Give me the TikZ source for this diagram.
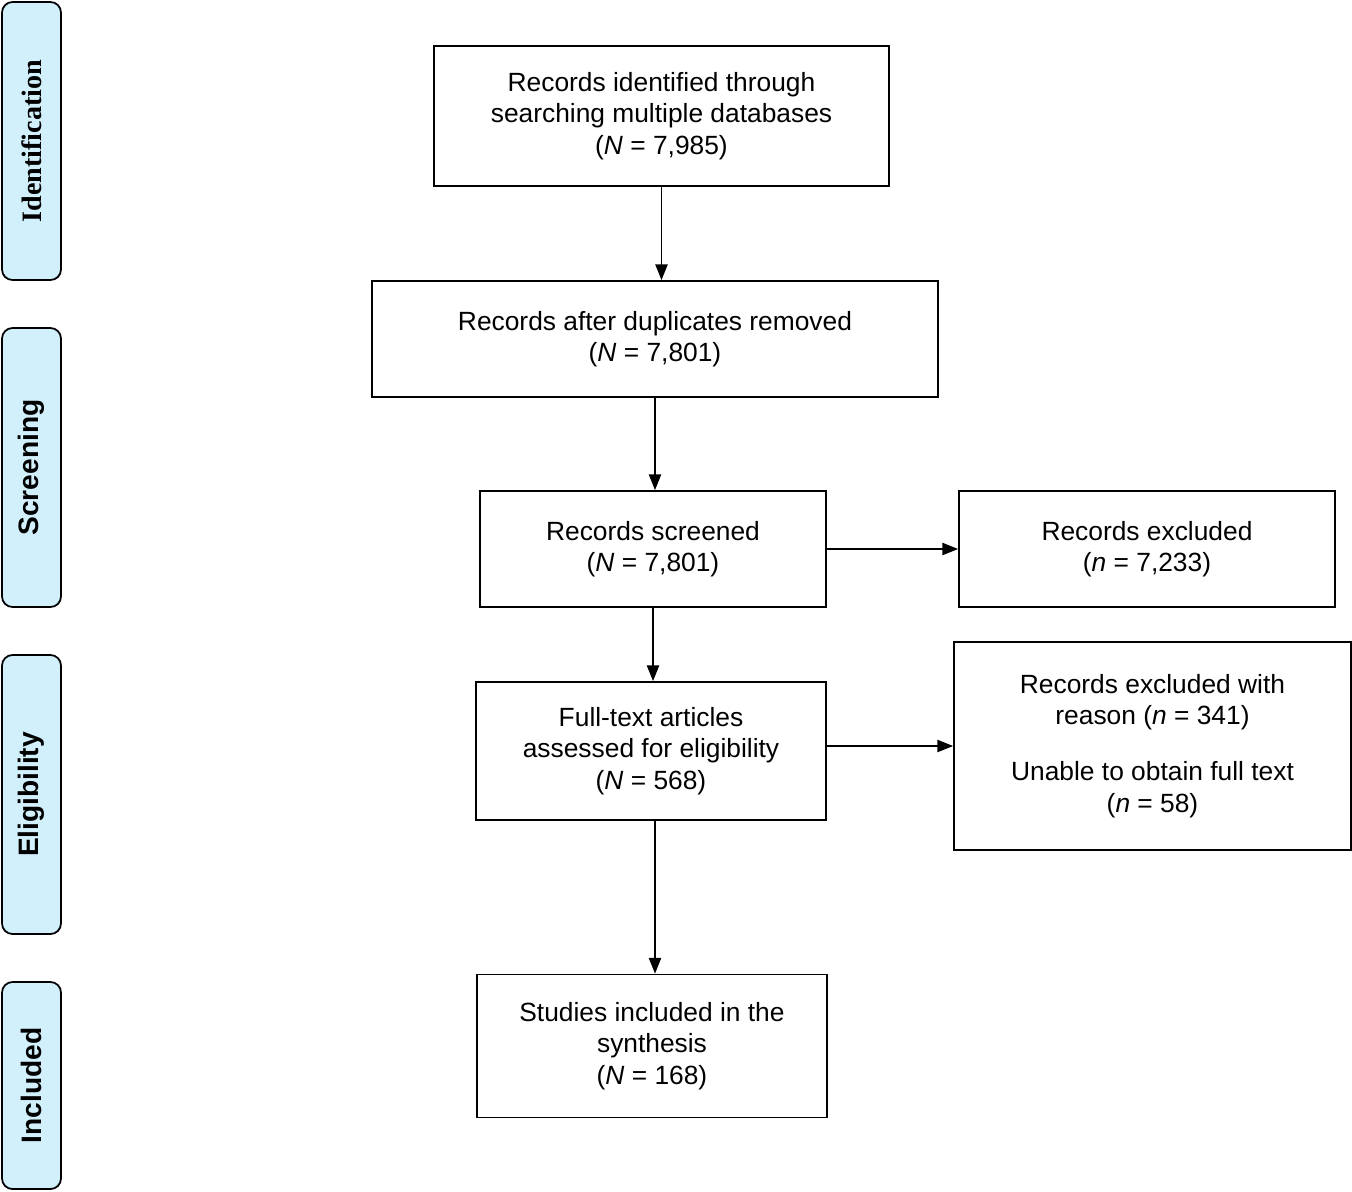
\documentclass[tikz,border=0pt]{standalone}
\usepackage{fontspec}
\setmainfont{Liberation Sans}
\newfontfamily\serifbar{Liberation Serif}
\usetikzlibrary{arrows.meta}
\begin{document}
\begin{tikzpicture}[x=0.02cm,y=-0.02cm,
    box/.style={draw, line width=1pt, align=center, inner sep=0pt,
      font=\fontsize{15}{18}\selectfont},
    stage/.style={draw, line width=1pt, fill=cyan!18!white, rounded corners=6pt,
      minimum width=59*0.02cm, inner sep=0pt,
      font=\bfseries\fontsize{16}{19}\selectfont},
    flow/.style={-{Triangle[length=9pt,width=7pt]}, line width=0.8pt}]
    \useasboundingbox (0,0) rectangle (1352,1191);
    % stage bars
    \node[stage, minimum height=278*0.02cm] (sid) at (31.5,141) {};
    \node[rotate=90, font=\serifbar\bfseries\fontsize{16}{19}\selectfont] at (sid) {Identification};
    \node[stage, minimum height=279*0.02cm] (sscr) at (31.5,467.5) {};
    \node[rotate=90, font=\bfseries\fontsize{16}{19}\selectfont] at (sscr) {Screening};
    \node[stage, minimum height=279*0.02cm] (selig) at (31.5,794.5) {};
    \node[rotate=90, font=\bfseries\fontsize{16}{19}\selectfont] at (selig) {Eligibility};
    \node[stage, minimum height=207*0.02cm] (sinc) at (31.5,1085.5) {};
    \node[rotate=90, font=\bfseries\fontsize{16}{19}\selectfont] at (sinc) {Included};
    % boxes
    \node[box, minimum width=455*0.02cm, minimum height=140*0.02cm] (ident) at (661.5,116)
      {Records identified through\\searching multiple databases\\(\textit{N} = 7,985)};
    \node[box, minimum width=566*0.02cm, minimum height=116*0.02cm] (dup) at (655,339)
      {Records after duplicates removed\\(\textit{N} = 7,801)};
    \node[box, minimum width=346*0.02cm, minimum height=116*0.02cm] (screen) at (653,549)
      {Records screened\\(\textit{N} = 7,801)};
    \node[box, minimum width=376*0.02cm, minimum height=116*0.02cm] (excl) at (1147,549)
      {Records excluded\\(\textit{n} = 7,233)};
    \node[box, minimum width=350*0.02cm, minimum height=138*0.02cm] (full) at (651,751)
      {Full-text articles\\assessed for eligibility\\(\textit{N} = 568)};
    \node[box, minimum width=397*0.02cm, minimum height=208*0.02cm] (excl2) at (1152.5,746)
      {Records excluded with\\reason (\textit{n} = 341)\\[14pt]Unable to obtain full text\\(\textit{n} = 58)};
    \node[box, minimum width=350*0.02cm, minimum height=143*0.02cm] (incl) at (652,1046)
      {Studies included in the\\synthesis\\(\textit{N} = 168)};
    % arrows
    \draw[flow] (ident.south) -- (ident.south|-dup.north);
    \draw[flow] (dup.south) -- (dup.south|-screen.north);
    \draw[flow] (screen.south) -- (screen.south|-full.north);
    \draw[flow] ([xshift=4*0.02cm]full.south) -- ([xshift=4*0.02cm]full.south|-incl.north);
    \draw[flow] (screen.east) -- (excl.west);
    \draw[flow] (full.east|-excl2.west) -- (excl2.west);
\end{tikzpicture}
\end{document}
